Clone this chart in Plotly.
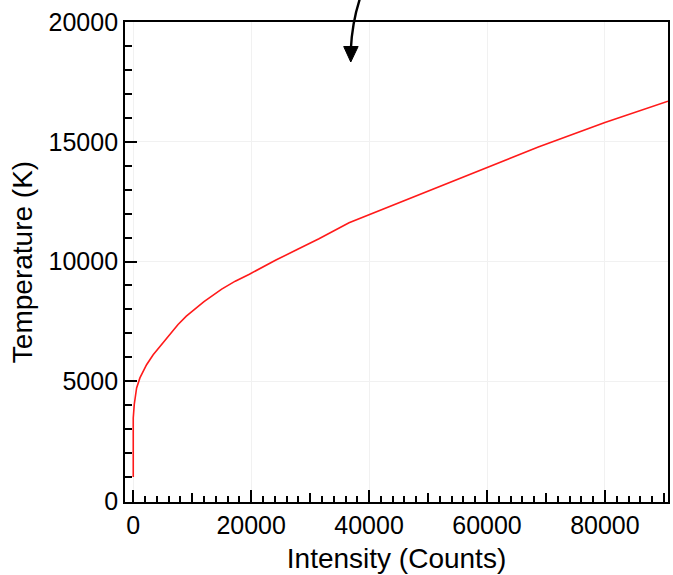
import plotly.graph_objects as go

# Data
intensity = [0, 0, 170, 570, 1130, 2260, 3380, 4800, 6200, 7600, 9000, 10500, 12000,
             15000, 17300, 19700, 22000, 24200, 27800, 31500, 36600, 45000, 53500,
             60000, 68700, 80000, 90700]
temperature = [1000, 3470, 4030, 4720, 5140, 5690, 6110, 6530, 6970, 7370, 7720, 8040, 8330,
               8850, 9180, 9470, 9780, 10060, 10500, 10950, 11620, 12450, 13280,
               13920, 14780, 15800, 16690]

x_label_vals = [0, 20000, 40000, 60000, 80000]
x_mid_vals = [10000, 30000, 50000, 70000, 90000]
y_label_vals = [0, 5000, 10000, 15000, 20000]

X_RANGE = [-1400, 90700]
Y_RANGE = [-40, 20000]

W, H = 673, 575
ML, MR, MT, MB = 125, 3, 22, 73
PW, PH = W - ML - MR, H - MT - MB

def px(xp):
    return (xp - ML) / PW

def py(yp):
    return (H - MB - yp) / PH

font = "Liberation Sans, Arial, sans-serif"

fig = go.Figure()
fig.add_trace(go.Scatter(x=intensity, y=temperature, mode="lines",
                         line=dict(color="#ff1a1a", width=1.6),
                         showlegend=False, hoverinfo="skip"))
# invisible trace to activate the overlay axis for medium ticks
fig.add_trace(go.Scatter(x=intensity, y=temperature, mode="lines", xaxis="x2",
                         line=dict(color="rgba(0,0,0,0)", width=0),
                         showlegend=False, hoverinfo="skip"))

fig.update_layout(
    width=W, height=H,
    margin=dict(l=ML, r=MR, t=MT, b=MB),
    paper_bgcolor="white", plot_bgcolor="white",
    font=dict(family=font, size=25, color="black"),
    xaxis=dict(
        range=X_RANGE, tickmode="array", tickvals=x_label_vals,
        ticktext=[str(v) for v in x_label_vals],
        ticks="inside", ticklen=12, tickwidth=1.5, tickcolor="black",
        minor=dict(dtick=2000, tick0=0, ticks="inside", ticklen=6,
                   tickwidth=1.5, tickcolor="black", showgrid=False),
        showline=True, linecolor="black", linewidth=1.8, mirror=True,
        showgrid=True, gridcolor="#f1f1f1", gridwidth=1,
        zeroline=False,
        title=dict(text="Intensity (Counts)", font=dict(size=28), standoff=10),
        tickfont=dict(size=25),
    ),
    xaxis2=dict(
        range=X_RANGE, overlaying="x", anchor="y", side="bottom",
        tickmode="array", tickvals=x_mid_vals, showticklabels=False,
        ticks="inside", ticklen=9, tickwidth=1.5, tickcolor="black",
        showline=False, showgrid=False, zeroline=False,
    ),
    yaxis=dict(
        range=Y_RANGE, tickmode="array", tickvals=y_label_vals,
        ticktext=[str(v) for v in y_label_vals],
        ticks="inside", ticklen=12, tickwidth=1.5, tickcolor="black",
        minor=dict(dtick=1000, tick0=0, ticks="inside", ticklen=7,
                   tickwidth=1.5, tickcolor="black", showgrid=False),
        showline=True, linecolor="black", linewidth=1.8, mirror=True,
        showgrid=True, gridcolor="#f1f1f1", gridwidth=1,
        zeroline=False,
        title=dict(text="Temperature (K)", font=dict(size=28), standoff=8),
        tickfont=dict(size=25),
    ),
)

# Curved arrow at the top
fig.add_shape(type="path", xref="paper", yref="paper",
              path=f"M {px(361)},{py(-2)} Q {px(353)},{py(22)} {px(351.6)},{py(50)}",
              line=dict(color="black", width=2.4), layer="above")
fig.add_shape(type="path", xref="paper", yref="paper",
              path=f"M {px(344.5)},{py(46.5)} L {px(359)},{py(46.5)} L {px(351.6)},{py(62)} Z",
              line=dict(color="black", width=1), fillcolor="black", layer="above")

fig.write_html("out.html")
